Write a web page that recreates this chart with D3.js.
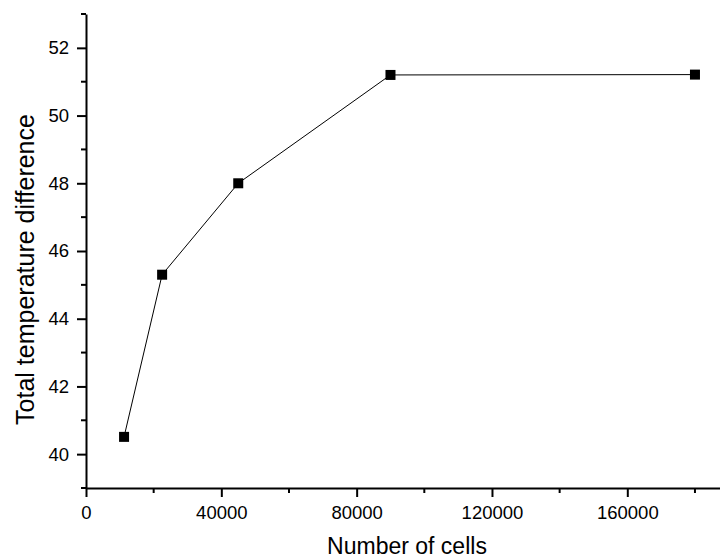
<!DOCTYPE html>
<html>
<head>
<meta charset="utf-8">
<script src="https://cdn.jsdelivr.net/npm/d3@7"></script>
<style>
  body { margin: 0; background: #fff; }
  text { font-family: "Liberation Sans", Arial, Helvetica, sans-serif; fill: #000; }
</style>
</head>
<body>
<div id="chart"></div>
<script>
// data
const cells = [11250, 22500, 45000, 90000, 180000];
const tempDiff = [40.51, 45.30, 48.00, 51.20, 51.21];
const xTicks = [0, 40000, 80000, 120000, 160000];
const yTicks = [40, 42, 44, 46, 48, 50, 52];

const width = 720;
const height = 558;
const margin = { top: 14, right: 0, bottom: 70, left: 86 };

const svg = d3.select("#chart")
  .append("svg")
  .attr("width", width)
  .attr("height", height);

let x = d3.scaleLinear()
  .domain([0, 187400])
  .range([margin.left, width - margin.right]);

let y = d3.scaleLinear()
  .domain([39, 53])
  .range([height - margin.bottom, margin.top]);

// minor ticks halfway between the labelled ones
let xMinor = d3.range(20000, 187400, 40000);
let yMinor = d3.range(39, 53.5, 2);

let xAxis = svg.append("g")
  .attr("transform", "translate(0," + y(39) + ")")
  .call(d3.axisBottom(x).tickValues(xTicks).tickFormat(d3.format("d")).tickSize(9).tickSizeOuter(0));

xAxis.append("g")
  .selectAll("line")
  .data(xMinor)
  .enter().append("line")
  .attr("x1", (d) => x(d))
  .attr("x2", (d) => x(d))
  .attr("y1", 0)
  .attr("y2", 5)
  .attr("stroke", "#000")
  .attr("stroke-width", 2);

let yAxis = svg.append("g")
  .attr("transform", "translate(" + x(0) + ",0)")
  .call(d3.axisLeft(y).tickValues(yTicks).tickSize(9).tickSizeOuter(0));

yAxis.append("g")
  .selectAll("line")
  .data(yMinor)
  .enter().append("line")
  .attr("x1", 0)
  .attr("x2", -5)
  .attr("y1", (d) => y(d))
  .attr("y2", (d) => y(d))
  .attr("stroke", "#000")
  .attr("stroke-width", 2);

svg.selectAll(".domain").attr("stroke", "#000").attr("stroke-width", 2);
svg.selectAll(".tick line").attr("stroke", "#000").attr("stroke-width", 2);
svg.selectAll(".tick text")
  .attr("font-size", 18.5)
  .style("font-family", '"Liberation Sans", Arial, sans-serif')
  .attr("fill", "#000");
xAxis.selectAll(".tick text").attr("dy", "0.71em").attr("y", 18);
yAxis.selectAll(".tick text").attr("x", -17);

// axis titles
svg.append("text")
  .attr("x", 407)
  .attr("y", 554)
  .attr("text-anchor", "middle")
  .attr("font-size", 23)
  .text("Number of cells");

svg.append("text")
  .attr("transform", "translate(34," + 269.5 + ") rotate(-90)")
  .attr("text-anchor", "middle")
  .attr("font-size", 25)
  .text("Total temperature difference");

// series
let pts = cells.map((c, i) => [c, tempDiff[i]]);

svg.append("path")
  .datum(pts)
  .attr("fill", "none")
  .attr("stroke", "#000")
  .attr("stroke-width", 1)
  .attr("d", d3.line().x((d) => x(d[0])).y((d) => y(d[1])));

svg.selectAll(".marker")
  .data(pts)
  .enter().append("rect")
  .attr("class", "marker")
  .attr("x", (d) => x(d[0]) - 5)
  .attr("y", (d) => y(d[1]) - 5)
  .attr("width", 10)
  .attr("height", 10)
  .attr("fill", "#000");
</script>
</body>
</html>
